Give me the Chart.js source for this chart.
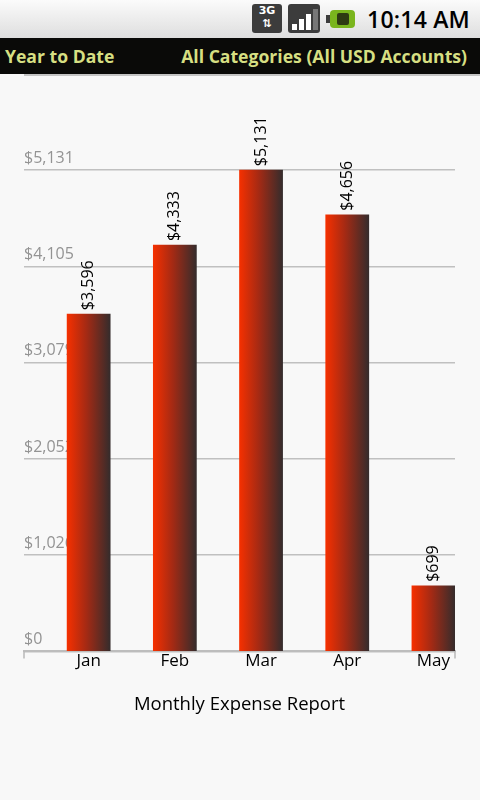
<!DOCTYPE html>
<html>
<head>
<meta charset="utf-8">
<script src="https://cdn.jsdelivr.net/npm/chart.js@4"></script>
<style>
  html, body { margin: 0; padding: 0; width: 480px; height: 800px; overflow: hidden; background: #f8f8f8; font-family: 'Open Sans', sans-serif; }
  #status { position: absolute; left: 0; top: 0; width: 480px; height: 38px; background: linear-gradient(#fbfbfb, #dedede); }
  #status .time { position: absolute; right: 10px; top: 3px; font-size: 23px; font-weight: 600; color: #000; letter-spacing: 0.2px; }
  .icon3g { position: absolute; left: 252px; top: 4px; width: 30px; height: 29px; background: #3c3c3c; border-radius: 3px; color: #fff; font: bold 11px 'DejaVu Sans', sans-serif; line-height: 13px; text-align: center; }
  .signal { position: absolute; left: 288px; top: 4px; width: 32px; height: 29px; background: #3c3c3c; border-radius: 3px; }
  .signal span { position: absolute; bottom: 3px; width: 5px; background: #fff; }
  .battery { position: absolute; left: 330px; top: 10px; width: 25px; height: 18px; background: #7ab51d; border-radius: 4px; }
  .battery:before { content: ''; position: absolute; left: -4px; top: 5px; width: 4px; height: 8px; background: #3c3c3c; }
  .battery span { position: absolute; left: 7px; top: 3px; width: 12px; height: 12px; background: #2e3a12; border-radius: 2px; }
  #bar { position: absolute; left: 0; top: 38px; width: 480px; height: 36px; background: #0a0a08; color: #d6df82; font-weight: 700; font-size: 17.6px; line-height: 36px; }
  #bar .l { position: absolute; left: 5px; }
  #bar .r { position: absolute; right: 13px; }
  #rule { position: absolute; left: 24px; top: 74px; width: 456px; height: 2px; background: #c4c4c4; }
  #wrap { position: absolute; left: 0; top: 76px; width: 480px; height: 724px; }
</style>
</head>
<body>
<div id="status">
  <div class="icon3g">3G<br>&#8645;</div>
  <div class="signal"><span style="left:4px;height:6px"></span><span style="left:11px;height:11px"></span><span style="left:18px;height:16px"></span><span style="left:25px;height:21px;background:#777"></span></div>
  <div class="battery"><span></span></div>
  <div class="time">10:14 AM</div>
</div>
<div id="bar"><span class="l">Year to Date</span><span class="r">All Categories (All USD Accounts)</span></div>
<div id="rule"></div>
<div id="wrap"><canvas id="chart"></canvas></div>
<script>
// monthly expense totals
const months = ['Jan', 'Feb', 'Mar', 'Apr', 'May'];
const expenses = [3596, 4333, 5131, 4656, 699];
const tickValues = [0, 1026, 2052, 3079, 4105, 5131];
const spacer = [null, null, null, null, null]; // empty left half of each slot

const money = v => '$' + Math.round(v).toLocaleString('en-US');

// rotated value label above each bar
const valueLabels = {
  id: 'valueLabels',
  afterDatasetsDraw(chart) {
    const ctx = chart.ctx;
    const meta = chart.getDatasetMeta(1);
    ctx.save();
    ctx.fillStyle = '#000';
    ctx.font = '16px "Open Sans", sans-serif';
    ctx.textAlign = 'left';
    ctx.textBaseline = 'middle';
    meta.data.forEach((bar, i) => {
      ctx.save();
      ctx.translate(bar.x, bar.y - 4);
      ctx.rotate(-Math.PI / 2);
      ctx.fillText(money(expenses[i]), 0, 0);
      ctx.restore();
    });
    ctx.restore();
  }
};

// little end marks hanging under the x axis line
const axisEnds = {
  id: 'axisEnds',
  afterDraw(chart) {
    const x = chart.scales.x;
    const ctx = chart.ctx;
    ctx.save();
    ctx.strokeStyle = '#b8b8b8';
    ctx.lineWidth = 1.5;
    [x.left, x.right].forEach(px => {
      ctx.beginPath();
      ctx.moveTo(px, x.top);
      ctx.lineTo(px, x.top + 7);
      ctx.stroke();
    });
    ctx.restore();
  }
};

function barGradient(c) {
  const chart = c.chart;
  const x = chart.scales.x;
  if (!x || !chart.chartArea) return '#c02a08';
  const left = x.getPixelForValue(c.dataIndex);
  const right = left + x.width / months.length / 2;
  const g = chart.ctx.createLinearGradient(left, 0, right, 0);
  g.addColorStop(0, '#f53000');
  g.addColorStop(0.45, '#a42a14');
  g.addColorStop(1, '#352c2c');
  return g;
}

new Chart(document.getElementById('chart'), {
  type: 'bar',
  data: {
    labels: months,
    datasets: [
      { data: spacer, backgroundColor: 'transparent' },
      { data: expenses, backgroundColor: barGradient }
    ]
  },
  options: {
    responsive: true,
    maintainAspectRatio: false,
    animation: false,
    barPercentage: 1,
    categoryPercentage: 1,
    layout: { padding: { left: 24, right: 25, top: 20, bottom: 74 } },
    plugins: {
      legend: { display: false },
      tooltip: { enabled: false },
      title: {
        display: true,
        position: 'bottom',
        text: 'Monthly Expense Report',
        color: '#000',
        font: { family: 'Open Sans', size: 18.5, weight: 'normal' },
        padding: { top: 22, bottom: 10 }
      }
    },
    scales: {
      x: {
        grid: { display: false, drawTicks: false },
        border: { display: true, color: '#bdbdbd', width: 2 },
        ticks: {
          color: '#000',
          font: { family: 'Open Sans', size: 17 },
          labelOffset: 21.5,
          padding: 0,
          maxRotation: 0
        }
      },
      y: {
        min: 0,
        max: 5922,
        afterBuildTicks: s => { s.ticks = tickValues.map(v => ({ value: v })); },
        grid: { drawTicks: false, color: '#c0c0c0', lineWidth: 1.5 },
        border: { display: false },
        ticks: {
          mirror: true,
          padding: 0,
          labelOffset: -12,
          color: '#939393',
          font: { family: 'Open Sans', size: 16 },
          callback: v => money(v)
        }
      }
    }
  },
  plugins: [valueLabels, axisEnds]
});
</script>
</body>
</html>
